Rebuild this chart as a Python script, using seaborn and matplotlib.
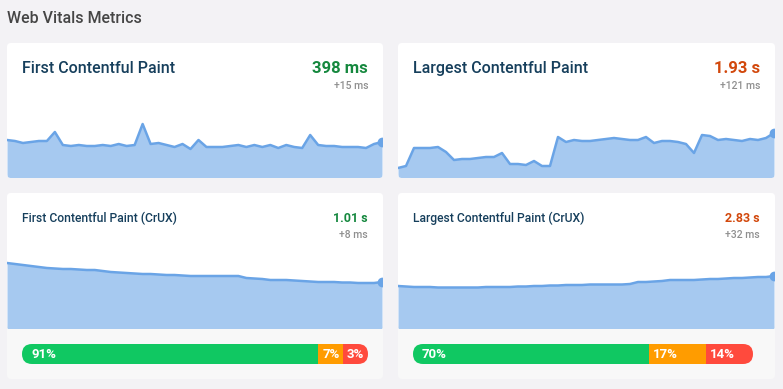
import numpy as np
import matplotlib.pyplot as plt
import seaborn as sns
from matplotlib.patches import FancyBboxPatch

# Sparkline values (relative heights)
fcp_lab = [38, 37, 35, 36, 37, 37, 46, 33, 32, 33, 32, 32, 33, 32, 34, 32,
           33, 54, 34, 35, 33, 31, 34, 29, 38, 31, 31, 31, 32, 33, 31, 33,
           31, 33, 30, 33, 31, 30, 43, 33, 32, 32, 31, 31, 31, 30, 34, 36]
lcp_lab = [10, 12, 30, 30, 30, 31, 26, 18, 19, 19, 20, 21, 21, 25, 14, 14,
           13, 17, 12, 12, 41, 36, 38, 37, 37, 38, 39, 40, 39, 38, 38, 41,
           35, 37, 37, 36, 34, 25, 43, 42, 38, 39, 38, 37, 39, 38, 40, 45]
fcp_crux = [65, 64, 63, 62, 61, 60, 59.5, 59, 59, 58.5, 58, 58, 57, 56, 55.5, 55,
            54.5, 54, 54, 53.5, 53, 53, 52.5, 52, 52, 52, 52, 52, 52, 52, 50, 49.5,
            49, 48, 48, 48, 47.5, 47, 46.5, 46, 46, 46, 45.5, 45.5, 45, 45, 45, 46]
lcp_crux = [42, 41.5, 41, 41, 41, 40.5, 40.5, 40.5, 40.5, 40.5, 40.5, 41, 41, 41, 41, 41.5,
            41.5, 42, 42, 42.5, 42.5, 43, 43, 43, 43.5, 43.5, 43.5, 43.5, 43.5, 44, 46, 46,
            46.5, 47, 48, 48, 48, 48, 48.5, 49, 49, 49.5, 50, 50, 50.5, 51, 51, 52]

titles = ["First Contentful Paint", "Largest Contentful Paint",
          "First Contentful Paint (CrUX)", "Largest Contentful Paint (CrUX)"]
values = ["398 ms", "1.93 s", "1.01 s", "2.83 s"]
deltas = ["+15 ms", "+121 ms", "+8 ms", "+32 ms"]
status = ["good", "medium", "good", "medium"]

fcp_dist = [91, 7, 3]
lcp_dist = [70, 17, 14]
dist_labels = ["good", "needs improvement", "poor"]

# colours
BG = "#f3f2f5"
FOOTER = "#f8f8f8"
LINE = "#6aa4e6"
FILL = "#a6c9f0"
TITLE = "#163f5c"
GRAY = "#8f8f8f"
VALUE_COLORS = {"good": "#15883e", "medium": "#d2480c"}
DIST_COLORS = ["#10c862", "#ff9c00", "#ff4a3d"]

sns.set_theme(style="white")
plt.rcParams['font.family'] = ['Roboto', 'DejaVu Sans']

W, H = 783, 389
fig = plt.figure(figsize=(W / 100, H / 100), dpi=100)
fig.patch.set_facecolor(BG)

bg = fig.add_axes([0, 0, 1, 1])
bg.set_xlim(0, W)
bg.set_ylim(H, 0)
bg.axis('off')
bg.patch.set_alpha(0)


def px_axes(x0, y0, x1, y1):
    ax = fig.add_axes([x0 / W, 1 - y1 / H, (x1 - x0) / W, (y1 - y0) / H])
    ax.axis('off')
    ax.patch.set_alpha(0)
    return ax


bg.text(7, 18, "Web Vitals Metrics", fontsize=11.5, color="#454545",
        fontweight='medium', va='center', ha='left')

# card boxes: (x0, y0, x1, y1, chart top, chart bottom)
cards = [(7, 43, 383, 178, 100, 178), (398, 43, 775, 178, 100, 178),
         (7, 193, 383, 379, 240, 328), (398, 193, 775, 379, 240, 328)]
series = [fcp_lab, lcp_lab, fcp_crux, lcp_crux]

for i, (x0, y0, x1, y1, ct, cb) in enumerate(cards):
    crux = i >= 2
    card = FancyBboxPatch((x0, y0), x1 - x0, y1 - y0,
                          boxstyle="round,pad=0,rounding_size=4",
                          fc=FOOTER if crux else "white", ec="none")
    bg.add_patch(card)
    if crux:
        bg.add_patch(FancyBboxPatch((x0, y0), x1 - x0, cb - y0,
                                    boxstyle="round,pad=0,rounding_size=4",
                                    fc="white", ec="none"))

    # header texts
    if crux:
        ty, dy, tsize, vsize, dsize = 218, 235, 8.7, 9, 7.5
    else:
        ty, dy, tsize, vsize, dsize = 68, 86, 11.5, 12, 7.5
    bg.text(x0 + 15, ty, titles[i], fontsize=tsize, color=TITLE,
            fontweight='medium', va='center', ha='left')
    bg.text(x1 - 15, ty, values[i], fontsize=vsize, color=VALUE_COLORS[status[i]],
            fontweight='bold', va='center', ha='right')
    bg.text(x1 - 15, dy, deltas[i], fontsize=dsize, color=GRAY,
            fontweight='medium', va='center', ha='right')

    # sparkline
    vals = np.array(series[i], dtype=float)
    idx = np.arange(len(vals))
    ax = px_axes(x0, ct, x1 - 1, cb)
    sns.lineplot(x=idx, y=vals, ax=ax, color=LINE, lw=1.8)
    fill = ax.fill_between(idx, vals, color=FILL, lw=0)
    ax.plot(idx[-1], vals[-1], 'o', color=LINE, ms=6)
    ax.set_xlim(0, len(vals) - 1)
    ax.set_ylim(0, cb - ct)
    ax.set_xlabel("")
    ax.set_ylabel("")
    for art in [fill] + ax.lines:
        art.set_clip_path(card)

# distribution bars on the CrUX cards
bars = [(22, 368, fcp_dist), (413, 753, lcp_dist)]
MIN_SHARE = 0.072
for bx0, bx1, dist in bars:
    p = np.array(dist, dtype=float)
    share = p / p.sum()
    small = share < MIN_SHARE
    share[~small] = share[~small] / share[~small].sum() * (1 - MIN_SHARE * small.sum())
    share[small] = MIN_SHARE

    pill = FancyBboxPatch((bx0, 344), bx1 - bx0, 20,
                          boxstyle="round,pad=0,rounding_size=10",
                          fc="none", ec="none")
    bg.add_patch(pill)
    bax = px_axes(bx0, 344, bx1, 364)
    lefts = np.concatenate([[0], np.cumsum(share)[:-1]])
    rects = bax.barh(0, share, left=lefts, height=1, color=DIST_COLORS, lw=0)
    for r in rects:
        r.set_clip_path(pill)
    bax.set_xlim(0, 1)
    bax.set_ylim(-0.5, 0.5)
    for j, (l, pct) in enumerate(zip(lefts, dist)):
        pad = 9 if j == 0 else 4
        bax.annotate(f"{pct}%", xy=(l, 0), xytext=(pad * 0.72, 0),
                     textcoords='offset points', ha='left', va='center',
                     color="white", fontsize=9.5, fontweight='bold')

fig.savefig("out.png", dpi=100, facecolor=BG)
